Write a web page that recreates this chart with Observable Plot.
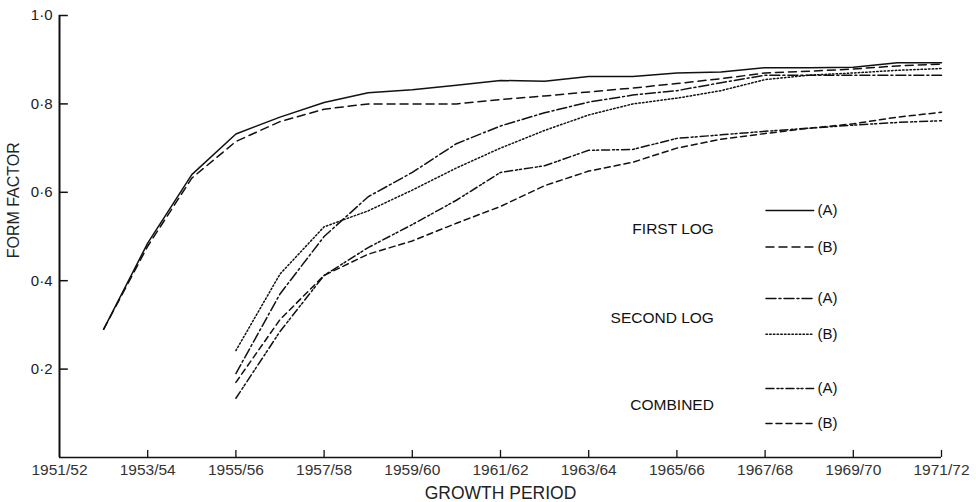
<!DOCTYPE html>
<html>
<head>
<meta charset="utf-8">
<script src="https://cdn.jsdelivr.net/npm/d3@7"></script>
<script src="https://cdn.jsdelivr.net/npm/@observablehq/plot@0.6"></script>
<style>
  html, body { margin: 0; padding: 0; background: #fff; }
  #chart svg { display: block; }
</style>
</head>
<body>
<div id="chart"></div>
<script>
const periods = ["1951/52","1952/53","1953/54","1954/55","1955/56","1956/57","1957/58","1958/59","1959/60","1960/61",
  "1961/62","1962/63","1963/64","1964/65","1965/66","1966/67","1967/68","1968/69","1969/70","1970/71","1971/72"];
const tickLabels = ["1951/52","1953/54","1955/56","1957/58","1959/60","1961/62","1963/64","1965/66","1967/68","1969/70","1971/72"];
const yTicks = [0.2, 0.4, 0.6, 0.8, 1.0];

const firstLogA  = [null, 0.29, 0.485, 0.64, 0.732, 0.77, 0.803, 0.825, 0.832, 0.842, 0.853, 0.851, 0.862, 0.862, 0.870, 0.872, 0.882, 0.882, 0.883, 0.893, 0.893];
const firstLogB  = [null, 0.29, 0.478, 0.632, 0.715, 0.76, 0.788, 0.800, 0.800, 0.800, 0.810, 0.818, 0.827, 0.836, 0.846, 0.857, 0.870, 0.874, 0.879, 0.886, 0.890];
const secondLogA = [null, null, null, null, 0.19, 0.37, 0.50, 0.59, 0.645, 0.71, 0.750, 0.780, 0.804, 0.820, 0.830, 0.848, 0.865, 0.865, 0.865, 0.865, 0.865];
const secondLogB = [null, null, null, null, 0.242, 0.415, 0.522, 0.558, 0.605, 0.655, 0.700, 0.740, 0.775, 0.800, 0.813, 0.830, 0.855, 0.865, 0.870, 0.876, 0.880];
const combinedA  = [null, null, null, null, 0.134, 0.285, 0.412, 0.475, 0.527, 0.582, 0.645, 0.660, 0.695, 0.697, 0.722, 0.730, 0.738, 0.745, 0.752, 0.758, 0.762];
const combinedB  = [null, null, null, null, 0.17, 0.312, 0.412, 0.460, 0.490, 0.530, 0.568, 0.615, 0.648, 0.668, 0.700, 0.720, 0.733, 0.745, 0.755, 0.770, 0.781];

const groupNames = ["FIRST LOG", "SECOND LOG", "COMBINED"];
const seriesKeys = ["A", "B"];

const series = [
  {group: groupNames[0], key: seriesKeys[0], values: firstLogA,  dash: null},
  {group: groupNames[0], key: seriesKeys[1], values: firstLogB,  dash: "8,5"},
  {group: groupNames[1], key: seriesKeys[0], values: secondLogA, dash: "10,3,2,3"},
  {group: groupNames[1], key: seriesKeys[1], values: secondLogB, dash: "1.5,2.2"},
  {group: groupNames[2], key: seriesKeys[0], values: combinedA,  dash: "8,3,2,2,2,3"},
  {group: groupNames[2], key: seriesKeys[1], values: combinedB,  dash: "6,4"}
];

const ink = "#111";
const font = "Liberation Sans, Arial, sans-serif";
const lineMarks = series.map(s => {
  const rows = s.values.map((v, i) => ({i, v})).filter(d => d.v != null);
  return Plot.line(rows, {x: "i", y: "v", stroke: ink, strokeWidth: 1.5, strokeDasharray: s.dash, strokeLinejoin: "round"});
});

const legendY = [0.559, 0.476, 0.36, 0.279, 0.156, 0.077];
const legendMarks = [];
series.forEach((s, k) => {
  legendMarks.push(Plot.line([{x: 16.02, y: legendY[k]}, {x: 17.1, y: legendY[k]}],
    {x: "x", y: "y", stroke: ink, strokeWidth: 1.5, strokeDasharray: s.dash}));
  legendMarks.push(Plot.text([`(${s.key})`], {x: 17.1, y: legendY[k], dx: 4, textAnchor: "start",
    fontSize: 15, fill: ink, fontFamily: font}));
});
const groupY = [0.518, 0.316, 0.118];
groupNames.forEach((g, k) => {
  legendMarks.push(Plot.text([g], {x: 14, y: groupY[k], dx: 37, textAnchor: "end",
    fontSize: 15.5, fill: ink, fontFamily: font, letterSpacing: "0.3px"}));
});

const tickIdx = tickLabels.map(t => periods.indexOf(t));

const chart = Plot.plot({
  width: 976,
  height: 502,
  marginLeft: 59,
  marginRight: 35,
  marginTop: 15,
  marginBottom: 45,
  style: {fontFamily: font, fontSize: "14px", background: "#fff", color: ink},
  x: {domain: [0, 20], axis: null},
  y: {domain: [0, 1], axis: null},
  marks: [
    Plot.ruleX([0], {y1: 0, y2: 1, stroke: ink, strokeWidth: 2}),
    Plot.ruleY([0], {x1: 0, x2: 20, stroke: ink, strokeWidth: 1.3}),
    Plot.ruleY(yTicks, {x1: 0, x2: 0.2, stroke: ink, strokeWidth: 1.5}),
    Plot.ruleX(tickIdx.filter(i => i > 0), {y1: 0, y2: 0.016, stroke: ink, strokeWidth: 1.3}),
    Plot.text(tickIdx, {x: d => d, y: 0, dy: 13, text: i => periods[i], fontSize: 15.5, fill: "#333", fontFamily: font}),
    Plot.text(yTicks, {x: 0, y: d => d, dx: -7, textAnchor: "end", text: d => d.toFixed(1).replace(".", "·"), fontSize: 15, fill: "#222", fontFamily: font}),
    Plot.text(["FORM FACTOR"], {x: 0, y: 0.582, rotate: -90, dx: -46, fontSize: 16, fill: "#222", fontFamily: font}),
    Plot.text(["GROWTH PERIOD"], {x: 10, y: 0, dy: 36, fontSize: 17.5, fill: "#222", fontFamily: font}),
    ...lineMarks,
    ...legendMarks
  ]
});
document.getElementById("chart").appendChild(chart);
</script>
</body>
</html>
